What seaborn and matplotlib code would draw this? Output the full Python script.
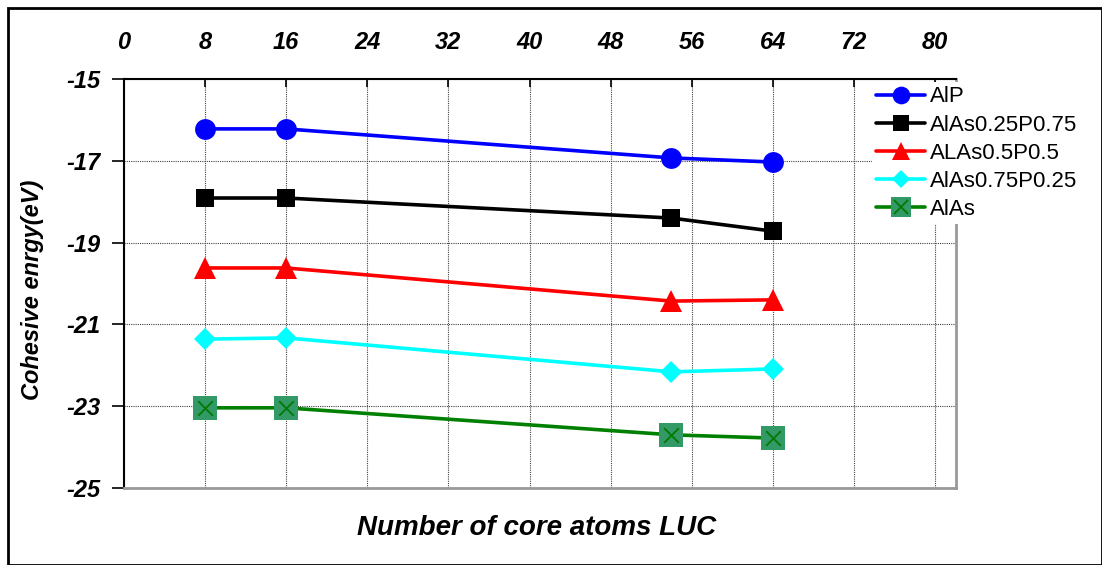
import matplotlib
matplotlib.use("Agg")
import matplotlib.pyplot as plt
import seaborn as sns
import pandas as pd
from matplotlib.lines import Line2D
from matplotlib.legend_handler import HandlerTuple
from matplotlib.patches import Rectangle

# ---- data ----
core_atoms = [8, 16, 54, 64]
alp = [-16.22, -16.22, -16.93, -17.03]
alas025 = [-17.91, -17.91, -18.40, -18.72]
alas05 = [-19.62, -19.62, -20.43, -20.40]
alas075 = [-21.36, -21.33, -22.16, -22.09]
alas = [-23.04, -23.04, -23.70, -23.78]
series_names = ["AlP", "AlAs0.25P0.75", "ALAs0.5P0.5", "AlAs0.75P0.25", "AlAs"]
x_ticks = [0, 8, 16, 24, 32, 40, 48, 56, 64, 72, 80]
y_ticks = [-15, -17, -19, -21, -23, -25]

sns.set_style("white")
plt.rcParams['font.family'] = ['Liberation Sans', 'DejaVu Sans']
plt.rcParams['axes.unicode_minus'] = False
plt.rcParams['text.color'] = 'black'
plt.rcParams['axes.labelcolor'] = 'black'
plt.rcParams['xtick.color'] = 'black'
plt.rcParams['ytick.color'] = 'black'

fig = plt.figure(figsize=(11.02, 5.65), dpi=100)
ax = fig.add_axes([124/1102, 1-488/565, (956-124)/1102, (488-79)/565])

all_vals = [alp, alas025, alas05, alas075, alas]
styles = [
    dict(color="#0000FF", marker="o", ms=15),
    dict(color="#000000", marker="s", ms=13),
    dict(color="#FF0000", marker="^", ms=16),
    dict(color="#00FFFF", marker="D", ms=11),
    dict(color="#008000", marker="s", ms=17, mfc="#339966", mec="#339966"),
]
handles = []
for name, vals, st in zip(series_names, all_vals, styles):
    df = pd.DataFrame({"x": core_atoms, "y": vals})
    sns.lineplot(data=df, x="x", y="y", ax=ax, color=st["color"], lw=2.6,
                 marker=st["marker"], markersize=st["ms"],
                 markerfacecolor=st.get("mfc", st["color"]),
                 markeredgecolor=st.get("mec", st["color"]), markeredgewidth=0,
                 zorder=3)
    h = Line2D([], [], color=st["color"], lw=2.6, marker=st["marker"],
               markersize=st["ms"] * 0.85, markerfacecolor=st.get("mfc", st["color"]),
               markeredgecolor=st.get("mec", st["color"]), markeredgewidth=0)
    handles.append(h)

# X overlay on AlAs markers
dfx = pd.DataFrame({"x": core_atoms, "y": alas})
sns.scatterplot(data=dfx, x="x", y="y", ax=ax, marker="x", s=110, color="#007A00",
                linewidth=1.3, zorder=4)
hx = Line2D([], [], ls="none", marker="x", markersize=10, color="#007A00", markeredgewidth=1.3)
handles[-1] = (handles[-1], hx)

ax.set_xlim(0, 82.07)
ax.set_ylim(-25, -15)
ax.set_xticks(x_ticks)
ax.set_yticks(y_ticks)
ax.xaxis.tick_top()
ax.tick_params(axis="x", direction="in", length=6, width=1.2, pad=18, top=True, bottom=False)
ax.tick_params(axis="y", direction="out", length=9, width=1.2, pad=8, left=True)
for lab in ax.get_xticklabels():
    lab.set_fontsize(17)
    lab.set_fontweight("bold")
    lab.set_fontstyle("italic")
for lab in ax.get_yticklabels():
    lab.set_fontsize(17)
    lab.set_fontweight("bold")
    lab.set_fontstyle("italic")

ax.grid(True, color="#444444", linestyle=(0, (1, 1)), linewidth=0.8)
ax.set_axisbelow(True)
for side in ["left", "top"]:
    ax.spines[side].set_color("black")
    ax.spines[side].set_linewidth(1.5)
for side in ["right", "bottom"]:
    ax.spines[side].set_color("#999999")
    ax.spines[side].set_linewidth(2)

ax.set_xlabel("")
ax.set_ylabel("")
fig.text(33/1102, 1-290/565, "Cohesive enrgy(eV)", ha="center", va="center", rotation=90,
         fontsize=17, fontweight="bold", fontstyle="italic")
fig.text(537/1102, 1-528/565, "Number of core atoms LUC", ha="center", va="center",
         fontsize=20, fontweight="bold", fontstyle="italic")

leg = fig.legend(handles, series_names, loc="upper left",
                 bbox_to_anchor=(872/1102, 1-82/565), fontsize=16,
                 frameon=True, facecolor="white", edgecolor="white", framealpha=1,
                 handlelength=2.2, handletextpad=0.2, labelspacing=0.32,
                 borderpad=0.2, borderaxespad=0,
                 handler_map={tuple: HandlerTuple(ndivide=1)})
leg.get_frame().set_linewidth(0)
leg.set_zorder(10)

fig.patches.append(Rectangle((8/1102, 0), 1 - 8/1102, 1 - 8/565, transform=fig.transFigure,
                             fill=False, edgecolor="black", linewidth=2))

fig.savefig("out.png", dpi=100)
